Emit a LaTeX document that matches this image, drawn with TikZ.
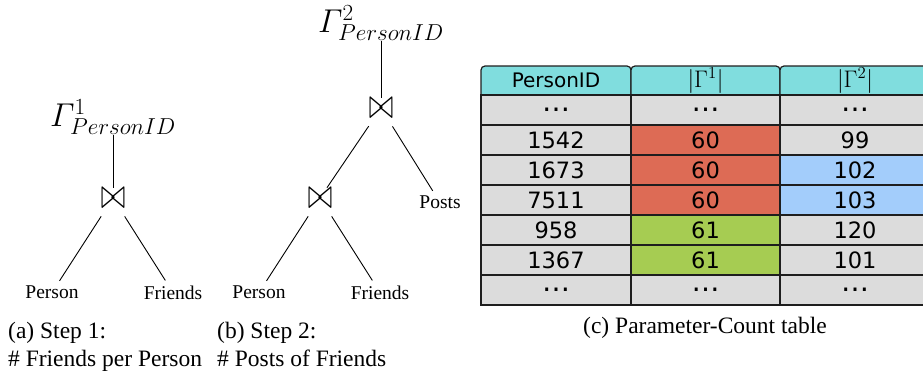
\RequirePackage{fix-cm}
\documentclass[tikz,border=0pt]{standalone}
\usepackage{amsmath}
\usepackage{graphicx}
\usepackage{fontspec}
\setmainfont{Liberation Serif}
\newfontfamily\dvsans{DejaVu Sans}
\definecolor{hdrc}{HTML}{80DDDE}
\definecolor{grayc}{HTML}{DCDCDC}
\definecolor{redc}{HTML}{DD6B55}
\definecolor{bluec}{HTML}{A3CDFB}
\definecolor{greenc}{HTML}{A6CC52}
\definecolor{linec}{HTML}{1E1E1E}
\newcommand{\dts}{{\fontsize{28}{30}\selectfont …}}
\newcommand{\bowjoin}{\scalebox{1}[1.45]{$\bowtie$}}
\tikzset{
  gam/.style={inner sep=0pt, font=\fontsize{33}{36}\selectfont},
  joinop/.style={inner sep=0pt, minimum height=18pt, minimum width=24pt, font=\fontsize{30}{32}\selectfont},
  leaf/.style={inner sep=5pt, font=\fontsize{19.5}{22}\selectfont},
  edge/.style={line width=0.9pt, black},
  hdr/.style={draw=linec, fill=hdrc, line width=1.2pt, rounded corners=4pt},
  hdrtext/.style={inner sep=0pt, font=\dvsans\fontsize{20}{22}\selectfont},
  hdrmath/.style={inner sep=0pt, font=\fontsize{24}{26}\selectfont},
  cell/.style={draw=linec, line width=1.2pt, minimum height=30pt, inner sep=0pt, font=\dvsans\fontsize{22.5}{24}\selectfont},
  captext/.style={inner sep=0pt, font=\fontsize{23.5}{26}\selectfont}
}
\begin{document}
\begin{tikzpicture}[x=1pt,y=-1pt]
\useasboundingbox (0,0) rectangle (923,375);
% Tree 1
\node[gam, anchor=south] (g1) at (113,135) {$\varGamma^1_{PersonID}$};
\node[joinop] (j1) at (113,198) {\bowjoin};
\node[leaf] (p1) at (52,292.5) {Person};
\node[leaf] (f1) at (173,292.5) {Friends};
\draw[edge] (g1) -- (j1);
\draw[edge, shorten <=9.5pt] (j1) -- (p1);
\draw[edge, shorten <=9.5pt] (j1) -- (f1);
% Tree 2
\node[gam, anchor=south] (g2) at (381,41) {$\varGamma^2_{PersonID}$};
\node[joinop] (j2t) at (381,108) {\bowjoin};
\node[joinop] (j2b) at (320,198) {\bowjoin};
\node[leaf] (po) at (440,202.5) {Posts};
\node[leaf] (p2) at (259,292.5) {Person};
\node[leaf] (f2) at (380,292.5) {Friends};
\draw[edge] (g2) -- (j2t);
\draw[edge, shorten <=9.5pt] (j2t) -- (j2b);
\draw[edge, shorten <=9.5pt] (j2t) -- (po);
\draw[edge, shorten <=9.5pt] (j2b) -- (p2);
\draw[edge, shorten <=9.5pt] (j2b) -- (f2);
% Table header
\path[hdr] (481,95) -- (481,66) -- (631,66) -- (631,95);
\path[hdr] (631,95) -- (631,66) -- (780,66) -- (780,95);
\path[hdr] (780,95) -- (780,66) -- (930,66) -- (930,95);
\node[hdrtext] (h1) at (556,80.5) {PersonID};
\node[hdrmath] (h2) at (705.5,80.5) {$|\Gamma^1|$};
\node[hdrmath] (h3) at (855,80.5) {$|\Gamma^2|$};
% Table body
\foreach \i/\y/\a/\b/\bc/\c/\cc in {
  1/110/\dts/\dts/grayc/\dts/grayc,
  2/140/1542/60/redc/99/grayc,
  3/170/1673/60/redc/102/bluec,
  4/200/7511/60/redc/103/bluec,
  5/230/958/61/greenc/120/grayc,
  6/260/1367/61/greenc/101/grayc,
  7/290/\dts/\dts/grayc/\dts/grayc}{
  \node[cell, fill=grayc, minimum width=150pt] (a\i) at (556,\y) {\a};
  \node[cell, fill=\bc, minimum width=149pt] (b\i) at (705.5,\y) {\b};
  \node[cell, fill=\cc, minimum width=150pt] (c\i) at (855,\y) {\c};
}
% Captions
\node[captext, anchor=base west] (ca1) at (8,338) {(a) Step 1:};
\node[captext, anchor=base west] (ca2) at (8,366) {\# Friends per Person};
\node[captext, anchor=base west] (cb1) at (217,338) {(b) Step 2:};
\node[captext, anchor=base west] (cb2) at (217,366) {\# Posts of Friends};
\node[captext, anchor=base] (cc) at (705,333) {(c) Parameter-Count table};
\end{tikzpicture}
\end{document}
